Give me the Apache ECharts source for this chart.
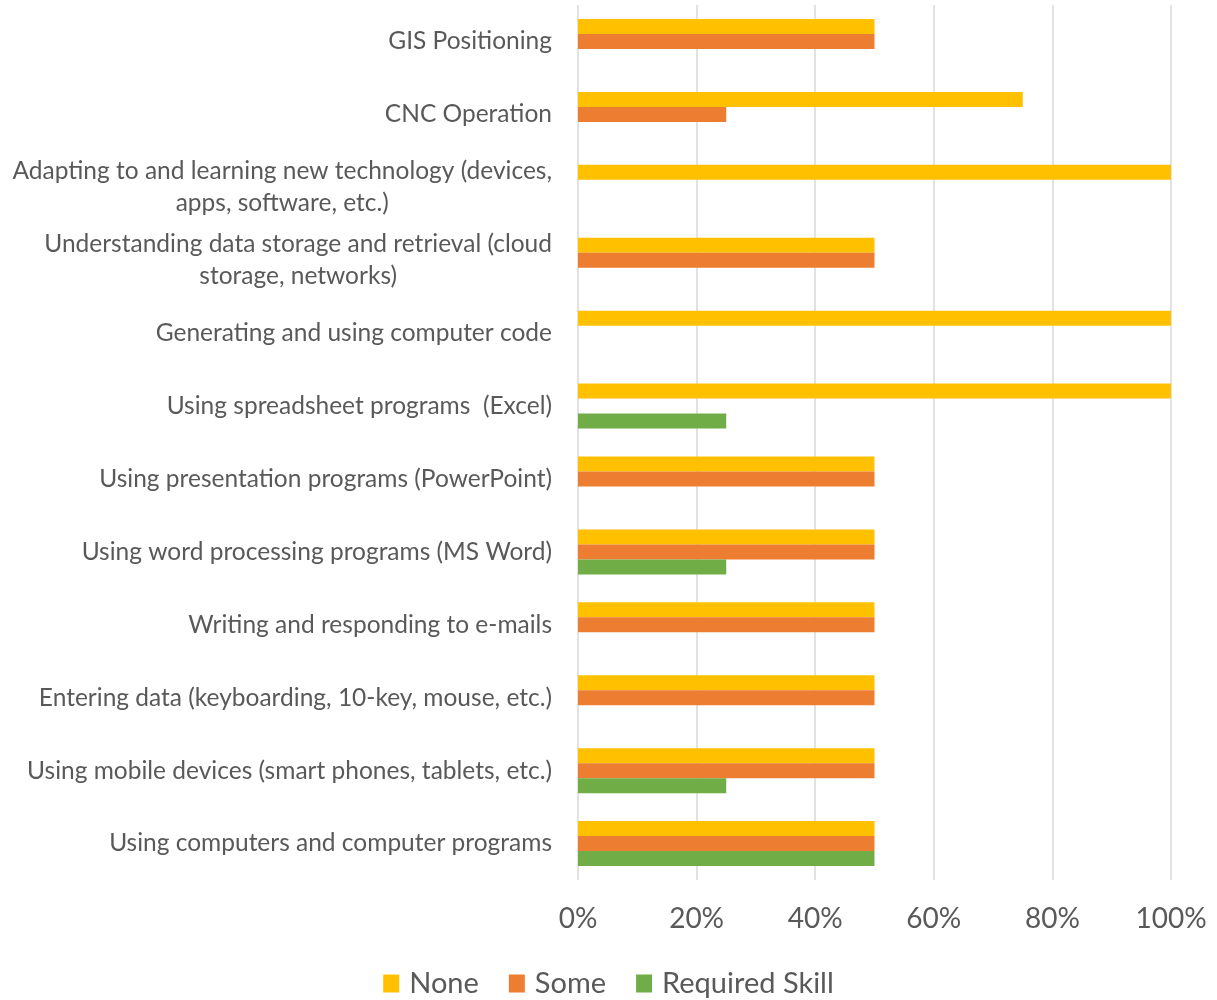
<!DOCTYPE html>
<html>
<head>
<meta charset="utf-8">
<script src="https://cdn.jsdelivr.net/npm/echarts@6/dist/echarts.min.js"></script>
<style>
  html, body { margin: 0; padding: 0; background: #fff; }
  #chart { width: 1217px; height: 1000px; }
</style>
</head>
<body>
<div id="chart"></div>
<script>
// categories, bottom to top (as drawn on the y axis)
const categories = [
  'Using computers and computer programs',
  'Using mobile devices (smart phones, tablets, etc.)',
  'Entering data (keyboarding, 10-key, mouse, etc.)',
  'Writing and responding to e-mails',
  'Using word processing programs (MS Word)',
  'Using presentation programs (PowerPoint)',
  'Using spreadsheet programs  (Excel)',
  'Generating and using computer code',
  'Understanding data storage and retrieval (cloud\nstorage, networks)',
  'Adapting to and learning new technology (devices,\napps, software, etc.)',
  'CNC Operation',
  'GIS Positioning'
];
const noneValues     = [0.5, 0.5, 0.5, 0.5, 0.5, 0.5, 1.0, 1.0, 0.5, 1.0, 0.75, 0.5];
const someValues     = [0.5, 0.5, 0.5, 0.5, 0.5, 0.5, 0,   0,   0.5, 0,   0.25, 0.5];
const requiredValues = [0.5, 0.25, 0,  0,   0.25, 0,  0.25, 0,  0,   0,   0,    0];

const FONT = 'Lato';
const TEXT = '#595959';

const chart = echarts.init(document.getElementById('chart'));

chart.setOption({
  animation: false,
  textStyle: { fontFamily: FONT },
  grid: { left: 578, right: 46, top: 5, bottom: 120, containLabel: false },
  legend: {
    data: ['None', 'Some', 'Required Skill'],
    top: 964,
    left: 'center',
    itemWidth: 16,
    itemHeight: 18,
    itemGap: 30,
    icon: 'rect',
    textStyle: { fontSize: 29, color: TEXT, fontFamily: FONT, padding: [0, 0, 0, 5] }
  },
  xAxis: {
    type: 'value',
    min: 0,
    max: 1,
    interval: 0.2,
    axisLine: { show: false },
    axisTick: { show: false },
    splitLine: { lineStyle: { color: '#d9d9d9', width: 1.5 } },
    axisLabel: {
      fontSize: 28,
      color: TEXT,
      margin: 25,
      formatter: v => Math.round(v * 100) + '%'
    }
  },
  yAxis: {
    type: 'category',
    data: categories,
    axisLine: { show: false },
    axisTick: { show: false },
    axisLabel: {
      fontSize: 24.5,
      color: TEXT,
      margin: 26,
      lineHeight: 32,
      formatter: v => v.split('\n').map(s => '{c|' + s + '}').join('\n'),
      rich: { c: { align: 'center', fontSize: 24.5, color: TEXT, lineHeight: 32, fontFamily: FONT } }
    }
  },
  series: [
    { name: 'None', type: 'bar', data: noneValues, barWidth: 15, barGap: '0%', itemStyle: { color: '#FFC000' } },
    { name: 'Some', type: 'bar', data: someValues, barWidth: 15, barGap: '0%', itemStyle: { color: '#ED7D31' } },
    { name: 'Required Skill', type: 'bar', data: requiredValues, barWidth: 15, barGap: '0%', itemStyle: { color: '#70AD47' } }
  ]
});
</script>
</body>
</html>
